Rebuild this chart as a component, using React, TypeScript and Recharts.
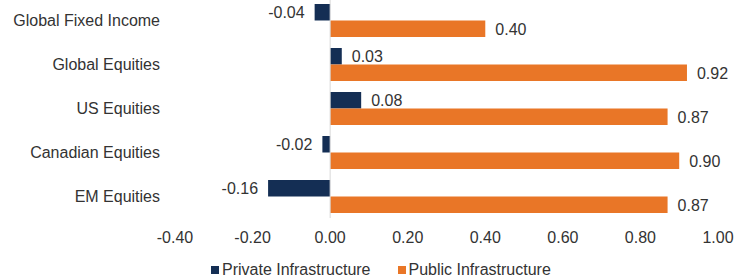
import React from "react";
import {
  Bar,
  BarChart,
  LabelList,
  Legend,
  ReferenceLine,
  XAxis,
  YAxis,
} from "recharts";

// Correlation of infrastructure returns with other asset classes.
const categories = [
  "Global Fixed Income",
  "Global Equities",
  "US Equities",
  "Canadian Equities",
  "EM Equities",
];
const privateInfra = [-0.04, 0.03, 0.08, -0.02, -0.16];
const publicInfra = [0.4, 0.92, 0.87, 0.9, 0.87];
const xTicks = [-0.4, -0.2, 0, 0.2, 0.4, 0.6, 0.8, 1.0];

const NAVY = "#142E54";
const ORANGE = "#E97627";
const TEXT = "#333333";
const FONT = "'Liberation Sans', Arial, sans-serif";
const FONT_SIZE = 16;

const data = categories.map((name, i) => ({
  name,
  private: privateInfra[i],
  public: publicInfra[i],
}));

// value label sits outside the bar end: left for negatives, right for positives
function BarValue(props: any) {
  const { x, y, width, height, value } = props;
  const left = Math.min(x, x + width);
  const right = Math.max(x, x + width);
  const neg = value < 0;
  return (
    <text
      x={neg ? left - 10 : right + 10}
      y={y + height / 2}
      dy="0.36em"
      textAnchor={neg ? "end" : "start"}
      fill={TEXT}
      fontSize={FONT_SIZE}
      fontFamily={FONT}
    >
      {Number(value).toFixed(2)}
    </text>
  );
}

function LegendBox() {
  const items = [
    { label: "Private Infrastructure", color: NAVY },
    { label: "Public Infrastructure", color: ORANGE },
  ];
  return (
    <div
      style={{
        display: "flex",
        paddingLeft: 211,
        paddingTop: 10,
        lineHeight: "19px",
        fontFamily: FONT,
        fontSize: FONT_SIZE,
        color: TEXT,
      }}
    >
      {items.map((it) => (
        <div
          key={it.label}
          style={{ display: "flex", alignItems: "center", marginRight: 27 }}
        >
          <span
            style={{
              display: "inline-block",
              width: 8,
              height: 8,
              background: it.color,
              marginRight: 3,
            }}
          />
          <span>{it.label}</span>
        </div>
      ))}
    </div>
  );
}

export default function App() {
  return (
    <div style={{ position: "absolute", left: 0, top: 0, background: "#fff" }}>
      <BarChart
        width={747}
        height={280}
        data={data}
        layout="vertical"
        margin={{ top: -2, right: 29, bottom: 0, left: 0 }}
        barSize={16.5}
        barGap={0}
        style={{ fontFamily: FONT }}
      >
        <XAxis
          type="number"
          domain={[-0.4, 1]}
          ticks={xTicks}
          tickFormatter={(v: number) => v.toFixed(2)}
          axisLine={false}
          tickLine={false}
          tickSize={0}
          tickMargin={14}
          height={32}
          tick={{ fill: TEXT, fontSize: FONT_SIZE }}
        />
        <YAxis
          type="category"
          dataKey="name"
          width={175}
          axisLine={false}
          tickLine={false}
          tickSize={0}
          tickMargin={15}
          tick={{ fill: TEXT, fontSize: FONT_SIZE }}
        />
        <ReferenceLine x={0} stroke="#D9D9D9" strokeWidth={1} />
        <Legend
          verticalAlign="bottom"
          content={<LegendBox />}
          wrapperStyle={{ left: 0, width: 747, bottom: 0, height: 30 }}
        />
        <Bar
          dataKey="private"
          name="Private Infrastructure"
          fill={NAVY}
          isAnimationActive={false}
        >
          <LabelList dataKey="private" content={<BarValue />} />
        </Bar>
        <Bar
          dataKey="public"
          name="Public Infrastructure"
          fill={ORANGE}
          isAnimationActive={false}
        >
          <LabelList dataKey="public" content={<BarValue />} />
        </Bar>
      </BarChart>
    </div>
  );
}
